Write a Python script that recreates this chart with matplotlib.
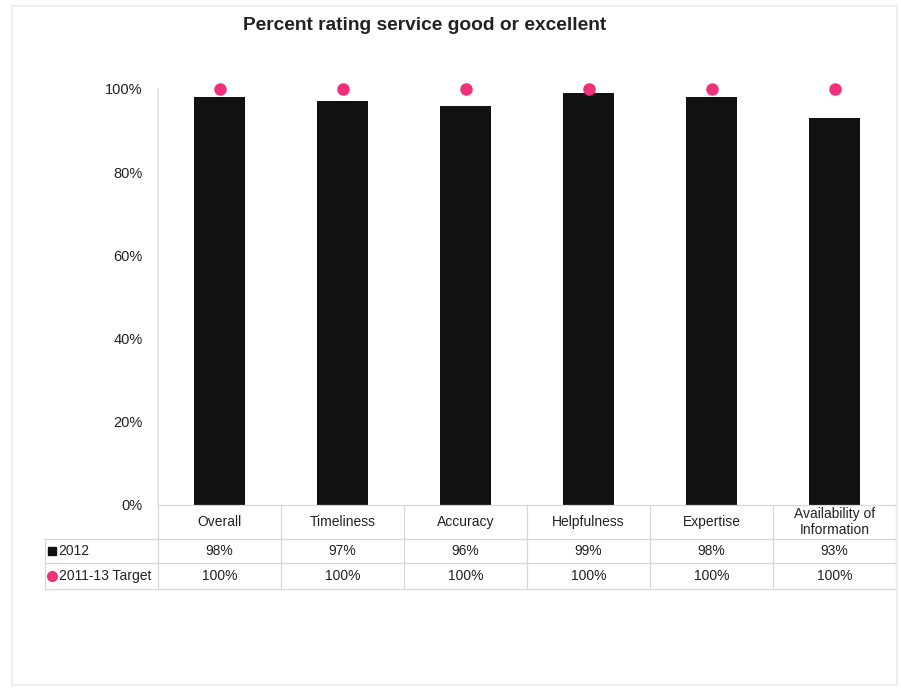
import matplotlib.pyplot as plt
from matplotlib.transforms import blended_transform_factory

# Данные
categories = ['Overall', 'Timeliness', 'Accuracy', 'Helpfulness', 'Expertise',
              'Availability of\nInformation']
values_2012 = [98, 97, 96, 99, 98, 93]
target = [100, 100, 100, 100, 100, 100]

plt.rcParams['font.family'] = ['Liberation Sans', 'DejaVu Sans']

bar_color = '#111111'
dot_color = '#F0307A'
line_color = '#d8d8d8'

fig = plt.figure(figsize=(9.01, 6.89), dpi=100)
ax = fig.add_axes([158 / 901, 1 - 505 / 689, 738 / 901, 416 / 689])

x = list(range(len(categories)))
ax.bar(x, values_2012, width=0.42, color=bar_color, zorder=2)
ax.plot(x, target, 'o', color=dot_color, markersize=8, clip_on=False, zorder=3)

ax.set_xlim(-0.5, len(categories) - 0.5)
ax.set_ylim(0, 100)
ax.set_yticks([0, 20, 40, 60, 80, 100])
ax.set_yticklabels([f'{v}%' for v in [0, 20, 40, 60, 80, 100]], fontsize=10.5, color='#222222')
ax.tick_params(axis='y', length=0, pad=11)
ax.set_xticks([])
for s in ['top', 'right', 'bottom']:
    ax.spines[s].set_visible(False)
ax.spines['left'].set_color('#e2e2e2')
ax.spines['left'].set_linewidth(1.2)

fig.text(425 / 901, 1 - 25 / 689, 'Percent rating service good or excellent',
         ha='center', va='center', fontsize=13.8, fontweight='bold', color='#222222')

# Таблица под графиком
tr = blended_transform_factory(ax.transData, ax.transAxes)
h = 416
y_rows = [0, -34 / h, -58 / h, -84 / h]
left = -0.5 - 113 / 123  # левый край колонки подписей
right = len(categories) - 0.5

kw = dict(color=line_color, lw=0.9, transform=tr, clip_on=False)
ax.plot([-0.5, right], [y_rows[0]] * 2, **kw)
for yy in y_rows[1:]:
    ax.plot([left, right], [yy] * 2, **kw)
for i in range(len(categories) + 1):
    ax.plot([i - 0.5] * 2, [y_rows[0], y_rows[3]], **kw)
ax.plot([left] * 2, [y_rows[1], y_rows[3]], **kw)

fs = 10
for i, cat in enumerate(categories):
    ax.text(i, (y_rows[0] + y_rows[1]) / 2, cat, transform=tr, ha='center', va='center',
            fontsize=fs, color='#222222', linespacing=1.25)
    ax.text(i, (y_rows[1] + y_rows[2]) / 2, f'{values_2012[i]}%', transform=tr,
            ha='center', va='center', fontsize=fs, color='#222222')
    ax.text(i, (y_rows[2] + y_rows[3]) / 2, f'{target[i]}%', transform=tr,
            ha='center', va='center', fontsize=fs, color='#222222')

lx = left + 0.06
ax.plot([lx], [(y_rows[1] + y_rows[2]) / 2], 's', color=bar_color, markersize=6,
        transform=tr, clip_on=False)
ax.text(lx + 0.05, (y_rows[1] + y_rows[2]) / 2, '2012', transform=tr, ha='left',
        va='center', fontsize=fs, color='#222222')
ax.plot([lx], [(y_rows[2] + y_rows[3]) / 2], 'o', color=dot_color, markersize=7,
        transform=tr, clip_on=False)
ax.text(lx + 0.05, (y_rows[2] + y_rows[3]) / 2, '2011-13 Target', transform=tr, ha='left',
        va='center', fontsize=fs, color='#222222')

# Светлая рамка вокруг диаграммы
fig.add_artist(plt.Rectangle((12 / 901, 4 / 689), 885 / 901, 679 / 689,
                             transform=fig.transFigure, fill=False,
                             edgecolor='#eeeeee', lw=1.5))

plt.savefig('out.png', dpi=100)
